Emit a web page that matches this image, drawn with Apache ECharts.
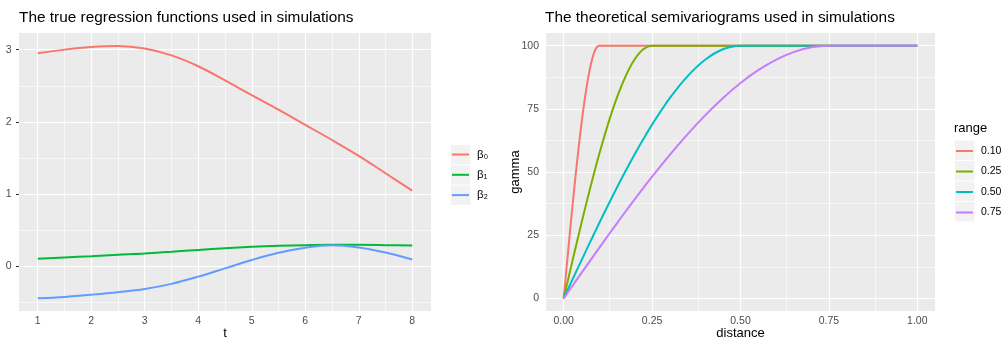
<!DOCTYPE html>
<html>
<head>
<meta charset="utf-8">
<script src="https://cdn.jsdelivr.net/npm/echarts@6/dist/echarts.min.js"></script>
<style>
  html, body { margin: 0; padding: 0; background: #ffffff; }
  #chart { width: 1005px; height: 339px; }
</style>
</head>
<body>
<div id="chart"></div>
<script>
// ---- Left panel: regression functions beta(t) ----
const tValues = [1, 1.5, 2, 2.5, 3, 3.5, 4, 4.5, 5, 5.5, 6, 6.5, 7, 7.5, 8];
const beta0 = [2.95, 3.0, 3.035, 3.05, 3.015, 2.92, 2.77, 2.575, 2.37, 2.17, 1.96, 1.75, 1.53, 1.29, 1.05];
const beta1 = [0.106, 0.125, 0.143, 0.162, 0.18, 0.205, 0.23, 0.253, 0.272, 0.286, 0.296, 0.30, 0.30, 0.296, 0.29];
const beta2 = [-0.44, -0.42, -0.39, -0.355, -0.31, -0.24, -0.14, -0.025, 0.09, 0.19, 0.26, 0.295, 0.264, 0.194, 0.097];
const betaNames = ['β₀', 'β₁', 'β₂'];
const tTicks = [1, 2, 3, 4, 5, 6, 7, 8];
const tMinor = [1.5, 2.5, 3.5, 4.5, 5.5, 6.5, 7.5];
const betaTicks = [0, 1, 2, 3];
const betaMinor = [-0.5, 0.5, 1.5, 2.5];

// ---- Right panel: spherical semivariograms, sill 100 ----
const distance = [0, 0.01, 0.02, 0.03, 0.04, 0.05, 0.06, 0.07, 0.08, 0.09, 0.10, 0.125, 0.15, 0.175, 0.20, 0.225, 0.25, 0.30, 0.35, 0.40, 0.45, 0.50, 0.55, 0.60, 0.65, 0.70, 0.75, 0.80, 0.90, 1.00];
const gammaR010 = [0, 14.95, 29.6, 43.65, 56.8, 68.75, 79.2, 87.85, 94.4, 98.55, 100, 100, 100, 100, 100, 100, 100, 100, 100, 100, 100, 100, 100, 100, 100, 100, 100, 100, 100, 100];
const gammaR025 = [0, 6.0, 11.97, 17.91, 23.8, 29.6, 35.31, 40.9, 46.36, 51.67, 56.8, 68.75, 79.2, 87.85, 94.4, 98.55, 100, 100, 100, 100, 100, 100, 100, 100, 100, 100, 100, 100, 100, 100];
const gammaR050 = [0, 3.0, 6.0, 8.99, 11.97, 14.95, 17.91, 20.86, 23.8, 26.71, 29.6, 36.72, 43.65, 50.36, 56.8, 62.94, 68.75, 79.2, 87.85, 94.4, 98.55, 100, 100, 100, 100, 100, 100, 100, 100, 100];
const gammaR075 = [0, 2.0, 4.0, 6.0, 7.99, 9.99, 11.97, 13.96, 15.94, 17.91, 19.88, 24.77, 29.6, 34.36, 39.05, 43.65, 48.15, 56.8, 64.92, 72.41, 79.2, 85.19, 90.28, 94.4, 97.45, 99.35, 100, 100, 100, 100];
const rangeNames = ['0.10', '0.25', '0.50', '0.75'];
const distTicks = [0, 0.25, 0.5, 0.75, 1];
const distMinor = [0.125, 0.375, 0.625, 0.875];
const gammaTicks = [0, 25, 50, 75, 100];
const gammaMinor = [12.5, 37.5, 62.5, 87.5];

const betaColors = ['#F8766D', '#00BA38', '#619CFF'];
const rangeColors = ['#F8766D', '#7CAE00', '#00BFC4', '#C77CFF'];

const FONT = 'Liberation Sans, Arial, sans-serif';
const AXIS_TEXT = '#4D4D4D';
const TICK_COLOR = '#333333';

function zip(xs, ys) { return xs.map((x, i) => [x, ys[i]]); }

// White panel grid drawn as mark lines (major and minor), kept under the curves
function panelGrid(idx, majorX, minorX, majorY, minorY) {
  const major = { color: '#FFFFFF', width: 1.2, type: 'solid' };
  const minor = { color: '#FFFFFF', width: 0.6, type: 'solid' };
  return {
    type: 'line', xAxisIndex: idx, yAxisIndex: idx, data: [], silent: true, z: 1,
    markLine: {
      z: 1, silent: true, symbol: ['none', 'none'], label: { show: false }, animation: false,
      emphasis: { disabled: true },
      data: [].concat(
        minorX.map(v => ({ xAxis: v, lineStyle: minor })),
        minorY.map(v => ({ yAxis: v, lineStyle: minor })),
        majorX.map(v => ({ xAxis: v, lineStyle: major })),
        majorY.map(v => ({ yAxis: v, lineStyle: major }))
      )
    }
  };
}

function curve(name, idx, xs, ys, color) {
  return {
    name: name, type: 'line', xAxisIndex: idx, yAxisIndex: idx,
    data: zip(xs, ys), smooth: 0.35, showSymbol: false, symbol: 'none', z: 10,
    lineStyle: { color: color, width: 2 }, itemStyle: { color: color },
    animation: false
  };
}

function valueAxis(opts) {
  return Object.assign({
    type: 'value',
    axisLine: { show: false },
    splitLine: { show: false },
    nameMoveOverlap: false,
    nameTextStyle: { color: '#000000', fontSize: 13, fontFamily: FONT }
  }, opts);
}

function ticks(values) {
  return { show: true, length: 3, customValues: values, lineStyle: { color: TICK_COLOR, width: 1 } };
}
function labels(values, margin, formatter) {
  const l = { customValues: values, color: AXIS_TEXT, fontSize: 10.5, fontFamily: FONT, margin: margin };
  if (formatter) l.formatter = formatter;
  return l;
}

const chart = echarts.init(document.getElementById('chart'), null, { renderer: 'canvas' });

const keyBg = '#F2F2F2';
const graphics = [];
[145, 165.3, 185.6].forEach(y => graphics.push({
  type: 'rect', shape: { x: 451, y: y, width: 19.3, height: 19.3 }, style: { fill: keyBg }, z: 0
}));
[140.5, 161, 181.5, 202].forEach(y => graphics.push({
  type: 'rect', shape: { x: 955, y: y, width: 19.5, height: 19.5 }, style: { fill: keyBg }, z: 0
}));

const option = {
  backgroundColor: '#FFFFFF',
  animation: false,
  textStyle: { fontFamily: FONT },
  title: [
    { text: 'The true regression functions used in simulations', left: 19, top: 10.5, padding: 0,
      textStyle: { fontSize: 15.4, fontWeight: 'normal', color: '#000000', fontFamily: FONT } },
    { text: 'The theoretical semivariograms used in simulations', left: 545, top: 10.5, padding: 0,
      textStyle: { fontSize: 15.4, fontWeight: 'normal', color: '#000000', fontFamily: FONT } },
    { text: 'range', left: 954, top: 122, padding: 0,
      textStyle: { fontSize: 13, fontWeight: 'normal', color: '#000000', fontFamily: FONT } }
  ],
  grid: [
    { left: 19, top: 33, width: 412, height: 278, show: true, backgroundColor: '#EBEBEB', borderWidth: 0,
      containLabel: false, outerBoundsMode: 'none' },
    { left: 546, top: 33, width: 389, height: 278, show: true, backgroundColor: '#EBEBEB', borderWidth: 0,
      containLabel: false, outerBoundsMode: 'none' }
  ],
  xAxis: [
    valueAxis({ gridIndex: 0, min: 0.65, max: 8.35, name: 't', nameLocation: 'middle', nameGap: 15.5,
      axisTick: ticks(tTicks), axisLabel: labels(tTicks, 5) }),
    valueAxis({ gridIndex: 1, min: -0.05, max: 1.05, name: 'distance', nameLocation: 'middle', nameGap: 15.5,
      axisTick: ticks(distTicks), axisLabel: labels(distTicks, 5, v => v.toFixed(2)) })
  ],
  yAxis: [
    valueAxis({ gridIndex: 0, min: -0.615, max: 3.23,
      axisTick: ticks(betaTicks), axisLabel: labels(betaTicks, 7.5) }),
    valueAxis({ gridIndex: 1, min: -5, max: 105, name: 'gamma', nameLocation: 'middle', nameGap: 24.5,
      axisTick: ticks(gammaTicks), axisLabel: labels(gammaTicks, 7) })
  ],
  legend: [
    { data: betaNames, orient: 'vertical', left: 452, top: 144.5, padding: 0,
      itemWidth: 17, itemHeight: 2, itemGap: 0.3, icon: 'rect',
      textStyle: { fontSize: 11.5, color: '#000000', fontFamily: FONT, lineHeight: 20, padding: [0, 0, 0, 3] } },
    { data: rangeNames, orient: 'vertical', left: 956, top: 141, padding: 0,
      itemWidth: 17, itemHeight: 2, itemGap: 0.5, icon: 'rect',
      textStyle: { fontSize: 10.5, color: '#000000', fontFamily: FONT, lineHeight: 20, padding: [0, 0, 0, 3] } }
  ],
  graphic: graphics,
  series: [
    panelGrid(0, tTicks, tMinor, betaTicks, betaMinor),
    panelGrid(1, distTicks, distMinor, gammaTicks, gammaMinor),
    curve(betaNames[0], 0, tValues, beta0, betaColors[0]),
    curve(betaNames[1], 0, tValues, beta1, betaColors[1]),
    curve(betaNames[2], 0, tValues, beta2, betaColors[2]),
    curve(rangeNames[0], 1, distance, gammaR010, rangeColors[0]),
    curve(rangeNames[1], 1, distance, gammaR025, rangeColors[1]),
    curve(rangeNames[2], 1, distance, gammaR050, rangeColors[2]),
    curve(rangeNames[3], 1, distance, gammaR075, rangeColors[3])
  ]
};

chart.setOption(option);
</script>
</body>
</html>
